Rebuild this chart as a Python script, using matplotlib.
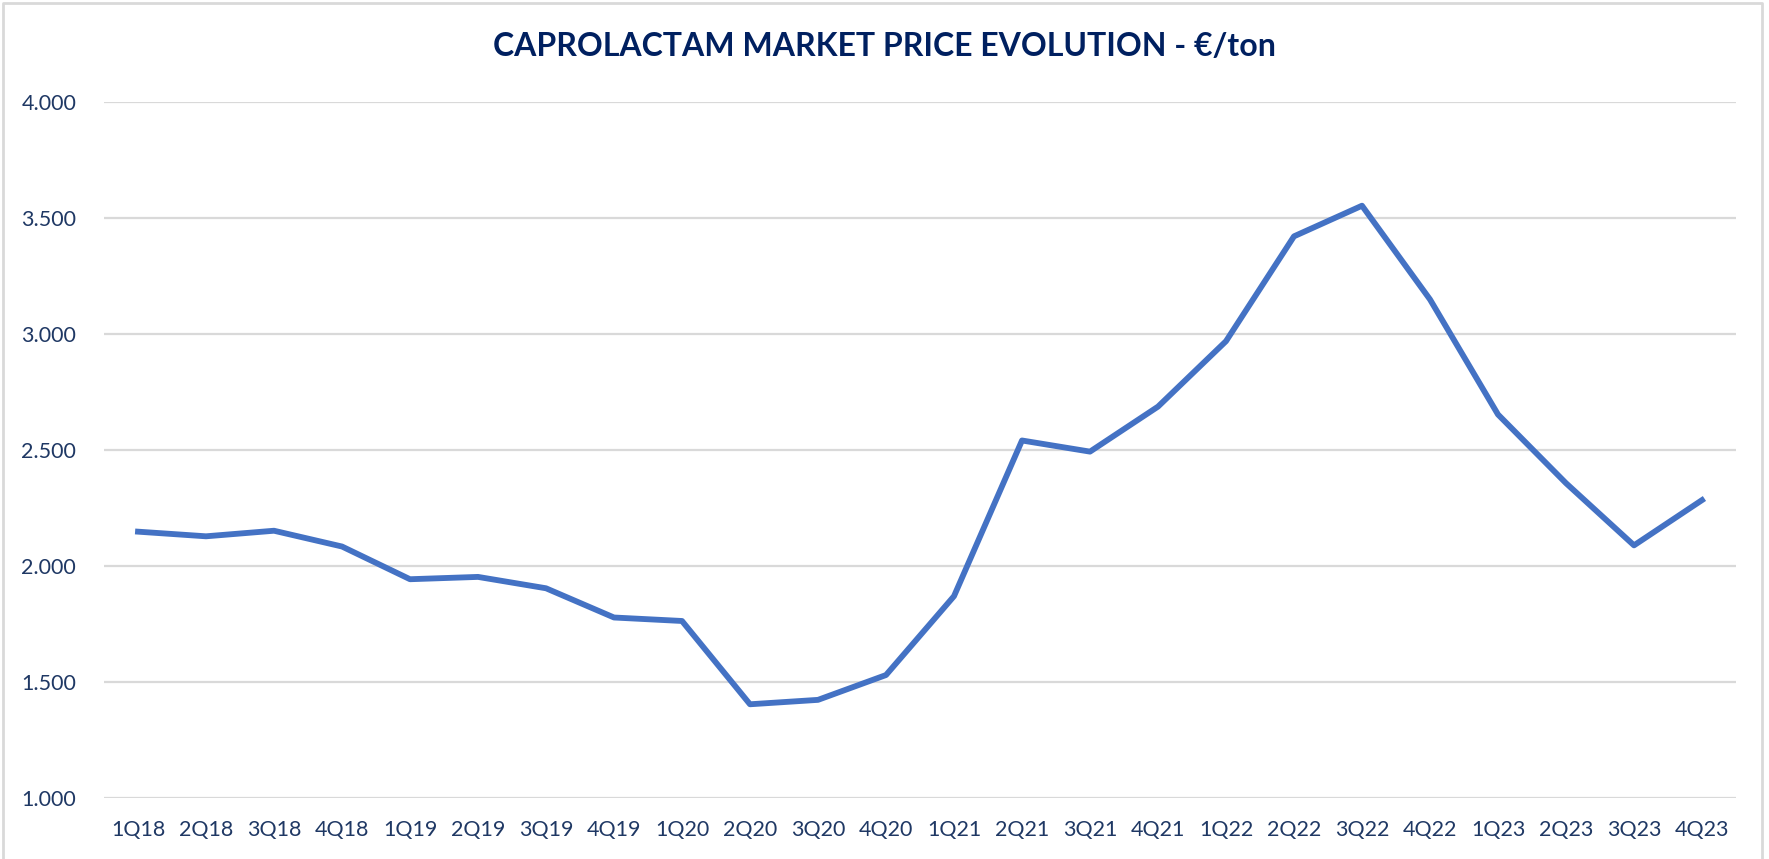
import numpy as np
import matplotlib
matplotlib.use('Agg')
import matplotlib.pyplot as plt
from matplotlib.lines import Line2D

quarters = ['1Q18', '2Q18', '3Q18', '4Q18',
            '1Q19', '2Q19', '3Q19', '4Q19',
            '1Q20', '2Q20', '3Q20', '4Q20',
            '1Q21', '2Q21', '3Q21', '4Q21',
            '1Q22', '2Q22', '3Q22', '4Q22',
            '1Q23', '2Q23', '3Q23', '4Q23']

price = [2148, 2128, 2152, 2084,
         1943, 1953, 1904, 1778,
         1763, 1404, 1423, 1530,
         1870, 2541, 2493, 2687,
         2969, 3421, 3553, 3149,
         2653, 2357, 2089, 2284]

y_ticks = [1000, 1500, 2000, 2500, 3000, 3500, 4000]

navy = '#002060'
tick_col = '#1F3864'
line_col = '#4472C4'

plt.rcParams['font.family'] = ['Lato', 'DejaVu Sans']

fig = plt.figure(figsize=(17.69, 8.59), dpi=100)
ax = fig.add_axes([104 / 1769, 61 / 859, 1632 / 1769, 696 / 859])

x = np.arange(len(quarters))
ax.plot(x, price, color=line_col, lw=4.2, solid_joinstyle='round', zorder=3)

ax.set_xlim(-0.5, len(quarters) - 0.5)
ax.set_ylim(1000, 4000)
ax.set_yticks(y_ticks)
ax.set_yticklabels([f'{v:,}'.replace(',', '.') for v in y_ticks])
ax.set_xticks(x)
ax.set_xticklabels(quarters)

ax.grid(axis='y', color='#D9D9D9', lw=1.6)
ax.set_axisbelow(True)
for s in ax.spines.values():
    s.set_visible(False)
ax.tick_params(axis='both', length=0, labelsize=15.5, colors=tick_col)
ax.tick_params(axis='y', pad=20)
ax.tick_params(axis='x', pad=16)

fig.text(0.5, 1 - 47 / 859, 'CAPROLACTAM MARKET PRICE EVOLUTION - €/ton',
         ha='center', va='center', fontsize=23, fontweight='bold', color=navy)

# light frame (left, top, right)
fx = [3 / 1769, 3 / 1769, 1762 / 1769, 1762 / 1769]
fy = [0, 1 - 3 / 859, 1 - 3 / 859, 0]
fig.add_artist(Line2D(fx, fy, transform=fig.transFigure, color='#D9D9D9', lw=2))

fig.savefig('out.png', dpi=100)
